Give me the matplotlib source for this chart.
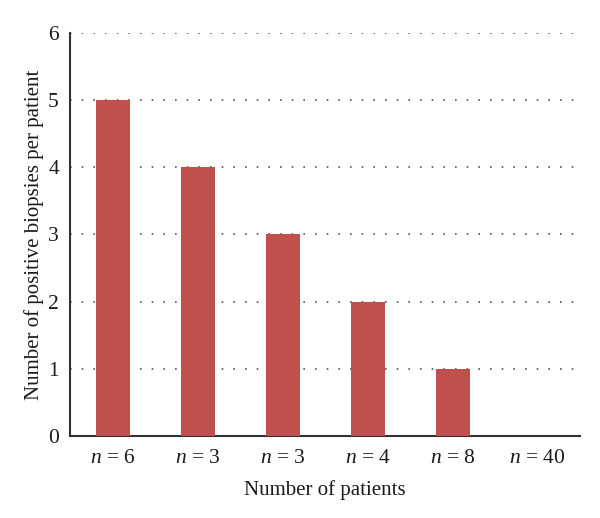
import matplotlib.pyplot as plt

groups = ['6', '3', '3', '4', '8', '40']
biopsies = [5, 4, 3, 2, 1, 0]
y_ticks = [0, 1, 2, 3, 4, 5, 6]

plt.rcParams['font.family'] = ['Liberation Serif', 'DejaVu Serif']
plt.rcParams['mathtext.fontset'] = 'custom'
plt.rcParams['mathtext.it'] = 'Liberation Serif:italic'
plt.rcParams['mathtext.rm'] = 'Liberation Serif'

fig = plt.figure(figsize=(6, 5.18), dpi=100)
ax = fig.add_axes([0.1167, 0.1583, 0.85, 0.778])

x = list(range(len(groups)))
ax.bar(x, biopsies, width=0.4, color='#C0504D', zorder=3)

ax.set_xlim(-0.5, 5.5)
ax.set_ylim(0, 6)
ax.set_yticks(y_ticks)
ax.set_xticks(x)
ax.set_xticklabels([f'$n$ = {g}' for g in groups])
ax.tick_params(axis='both', length=0, labelsize=15.5, colors='#1a1a1a')
ax.tick_params(axis='y', pad=8)
ax.tick_params(axis='x', pad=9)

ax.yaxis.grid(True, linestyle=(0, (1, 6)), color='#555555', linewidth=1.2)
ax.set_axisbelow(True)

for s in ['top', 'right']:
    ax.spines[s].set_visible(False)
ax.spines['left'].set_color('#333333')
ax.spines['bottom'].set_color('#333333')
ax.spines['left'].set_linewidth(1.5)
ax.spines['bottom'].set_linewidth(1.5)

ax.set_xlabel('Number of patients', fontsize=15, color='#1a1a1a', labelpad=9)
ax.set_ylabel('Number of positive biopsies per patient', fontsize=15, color='#1a1a1a', labelpad=3)

fig.savefig('out.png', dpi=100)
